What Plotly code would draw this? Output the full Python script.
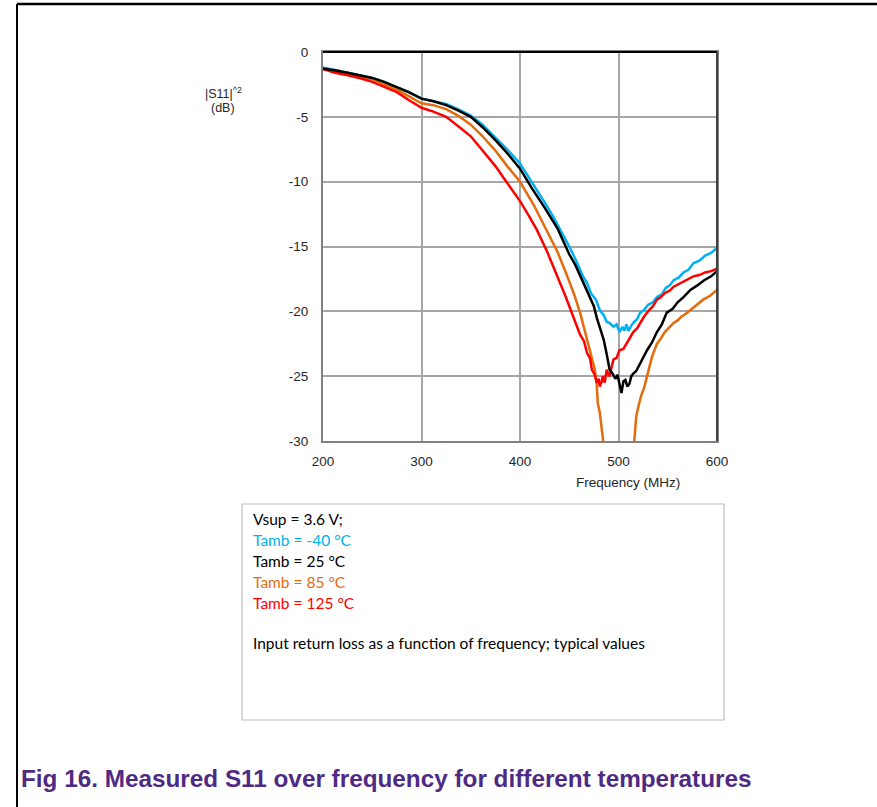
import plotly.graph_objects as go

# ---- data ----
freq_m40 = [200, 212, 225, 237, 250, 262, 275, 287, 300, 312, 325, 337, 350, 362, 375, 387, 400, 412, 425, 433, 441, 450, 457, 464, 468, 472, 477, 481, 485, 488, 491, 495, 498, 501, 504, 506, 508, 510, 513, 516, 519, 522, 526, 530, 535, 539, 544, 548, 552, 556, 561, 566, 571, 576, 582, 588, 594, 600]
s11_m40 = [-1.2, -1.4, -1.6, -1.8, -2.0, -2.3, -2.7, -3.1, -3.6, -3.8, -4.0, -4.4, -4.9, -5.6, -6.6, -7.5, -8.6, -10.0, -11.6, -12.6, -13.7, -15.0, -16.1, -17.3, -17.8, -18.6, -19.1, -19.9, -20.3, -20.8, -20.9, -21.2, -21.0, -21.6, -21.2, -21.5, -21.0, -21.5, -21.1, -20.8, -20.6, -20.1, -19.9, -19.5, -19.3, -18.9, -18.7, -18.2, -18.0, -17.6, -17.4, -17.0, -16.8, -16.3, -16.1, -15.7, -15.5, -15.1]

freq_25 = [200, 212, 225, 237, 250, 262, 275, 287, 300, 312, 325, 337, 350, 362, 375, 387, 400, 412, 425, 438, 450, 456, 462, 467, 471, 475, 478, 482, 485, 488, 491, 494, 497, 499, 501, 503, 505, 507, 509, 511, 513, 515, 518, 522, 525, 529, 534, 539, 544, 549, 555, 560, 566, 573, 580, 587, 594, 600]
s11_25 = [-1.3, -1.4, -1.6, -1.8, -2.0, -2.3, -2.7, -3.1, -3.6, -3.8, -4.1, -4.5, -5.0, -5.8, -6.8, -7.8, -9.0, -10.5, -12.0, -13.6, -15.6, -16.4, -17.4, -18.2, -18.9, -19.6, -20.5, -21.4, -22.2, -23.3, -24.5, -24.8, -25.2, -24.9, -25.5, -26.3, -25.4, -25.3, -25.8, -25.6, -25.0, -24.8, -24.6, -24.0, -23.6, -23.0, -22.4, -21.6, -21.0, -20.1, -19.8, -19.3, -18.9, -18.35, -18.0, -17.6, -17.3, -16.9]

freq_85 = [200, 212, 225, 237, 250, 262, 275, 287, 300, 312, 325, 337, 350, 362, 375, 387, 400, 414, 427, 438, 447, 455, 461, 466, 471, 474, 476, 478, 479, 481, 482, 484, 486, 500, 514, 516, 518, 520, 523, 526, 529, 534, 539, 543, 547, 551, 556, 560, 564, 568, 573, 579, 586, 593, 600]
s11_85 = [-1.3, -1.5, -1.7, -1.9, -2.1, -2.5, -2.9, -3.4, -3.95, -4.1, -4.4, -4.9, -5.6, -6.5, -7.6, -8.8, -10.0, -11.8, -13.7, -15.4, -17.1, -18.7, -20.1, -21.5, -23.0, -23.8, -24.5, -25.8, -27.1, -27.8, -28.5, -29.6, -31.0, -34.0, -31.0, -30.0, -28.1, -27.4, -26.5, -25.9, -25.0, -23.5, -22.5, -22.1, -21.6, -21.3, -20.9, -20.7, -20.4, -20.2, -19.9, -19.5, -19.1, -18.8, -18.35]

freq_125 = [200, 212, 225, 237, 250, 262, 275, 287, 300, 312, 325, 337, 350, 362, 375, 387, 400, 408, 417, 427, 437, 446, 454, 461, 465, 468, 471, 473, 476, 478, 480, 481, 483, 484, 486, 488, 490, 491, 493, 495, 498, 501, 505, 508, 512, 515, 519, 522, 526, 530, 535, 539, 543, 547, 552, 556, 561, 566, 571, 576, 582, 588, 594, 600]
s11_125 = [-1.3, -1.6, -1.8, -2.0, -2.3, -2.7, -3.1, -3.7, -4.3, -4.6, -5.0, -5.7, -6.5, -7.6, -8.8, -10.1, -11.5, -12.5, -13.7, -15.3, -17.1, -18.8, -20.4, -21.8, -22.3, -23.2, -23.6, -24.5, -24.9, -25.5, -25.2, -25.8, -25.4, -25.0, -25.5, -24.5, -24.9, -25.0, -24.3, -23.7, -23.6, -23.0, -22.9, -22.5, -22.0, -21.6, -21.3, -20.9, -20.4, -20.0, -19.6, -19.1, -18.9, -18.6, -18.4, -18.1, -17.9, -17.7, -17.5, -17.3, -17.2, -17.0, -16.9, -16.7]

series_names = ["Tamb = -40 °C", "Tamb = 25 °C", "Tamb = 85 °C", "Tamb = 125 °C"]
series_colors = ["#00B0F0", "#000000", "#E46C0A", "#FF0000"]

x_ticks = [200, 300, 400, 500, 600]
y_ticks = [0, -5, -10, -15, -20, -25, -30]

# ---- figure ----
W, H = 877, 807
L, R, T, B = 323, 717, 52, 441  # plot area in pixels

def px(x):
    return (x - L) / (R - L)

def py(y):
    return (B - y) / (B - T)

fig = go.Figure()
draw_order = [0, 2, 3, 1]  # black drawn last, on top
all_x = [freq_m40, freq_25, freq_85, freq_125]
all_y = [s11_m40, s11_25, s11_85, s11_125]
for i in draw_order:
    fig.add_trace(go.Scatter(x=all_x[i], y=all_y[i], mode="lines", name=series_names[i],
                             line=dict(color=series_colors[i], width=2.5), showlegend=False))

axis_font = dict(family="Liberation Sans, Arial, sans-serif", size=13.5, color="#262626")
fig.update_layout(
    width=W, height=H,
    margin=dict(l=L, r=W - R, t=T, b=H - B, pad=0),
    paper_bgcolor="white", plot_bgcolor="white",
    xaxis=dict(range=[200, 600], tickvals=x_ticks, ticktext=[str(v) for v in x_ticks],
               showgrid=True, gridcolor="#A6A6A6", gridwidth=1.5,
               showline=True, linecolor="#808080", linewidth=2, mirror=True,
               ticks="", ticklabelstandoff=7, tickfont=axis_font, zeroline=False,
               fixedrange=True),
    yaxis=dict(range=[-30, 0], tickvals=y_ticks, ticktext=[str(v) for v in y_ticks],
               showgrid=True, gridcolor="#A6A6A6", gridwidth=1.5,
               showline=True, linecolor="#808080", linewidth=2, mirror=True,
               ticks="", ticklabelstandoff=10, tickfont=axis_font, zeroline=False,
               fixedrange=True),
)

shapes = []
shapes.append(dict(type="line", xref="paper", yref="paper", x0=0, x1=1, y0=1, y1=1,
                   line=dict(color="#000000", width=2), layer="above"))
shapes.append(dict(type="line", xref="paper", yref="paper", x0=1, x1=1, y0=0, y1=1,
                   line=dict(color="#404040", width=2), layer="above"))
# outer page frame
shapes.append(dict(type="line", xref="paper", yref="paper", x0=px(17), x1=px(880), y0=py(4), y1=py(4),
                   line=dict(color="#000000", width=2.5)))
shapes.append(dict(type="line", xref="paper", yref="paper", x0=px(17), x1=px(17), y0=py(4), y1=py(810),
                   line=dict(color="#000000", width=2)))
# info box
shapes.append(dict(type="rect", xref="paper", yref="paper", x0=px(242), x1=px(724), y0=py(504), y1=py(720),
                   line=dict(color="#BFBFBF", width=1.2), fillcolor="rgba(0,0,0,0)"))
fig.update_layout(shapes=shapes)

lab_font = dict(family="Liberation Sans, Arial, sans-serif", size=12.5, color="#262626")
ann = []
ann.append(dict(text="|S11|<sup>^2</sup>", x=px(223), y=py(93), xref="paper", yref="paper",
                showarrow=False, xanchor="center", yanchor="middle", font=lab_font))
ann.append(dict(text="(dB)", x=px(223), y=py(108), xref="paper", yref="paper",
                showarrow=False, xanchor="center", yanchor="middle", font=lab_font))
ann.append(dict(text="Frequency (MHz)", x=px(628), y=py(482), xref="paper", yref="paper",
                showarrow=False, xanchor="center", yanchor="middle",
                font=dict(family="Liberation Sans, Arial, sans-serif", size=13.5, color="#262626")))

info_lines = [("Vsup = 3.6 V;", "#000000")] + list(zip(series_names, series_colors))
for i, (txt, col) in enumerate(info_lines):
    ann.append(dict(text=txt, x=px(251), y=py(519 + 21 * i), xref="paper", yref="paper",
                    showarrow=False, xanchor="left", yanchor="middle",
                    font=dict(family="Lato, Carlito, sans-serif", size=15.5, color=col)))
ann.append(dict(text="Input return loss as a function of frequency; typical values",
                x=px(251), y=py(643), xref="paper", yref="paper",
                showarrow=False, xanchor="left", yanchor="middle",
                font=dict(family="Lato, Carlito, sans-serif", size=15.5, color="#000000")))
ann.append(dict(text="<b>Fig 16. Measured S11 over frequency for different temperatures</b>",
                x=px(19), y=py(778), xref="paper", yref="paper",
                showarrow=False, xanchor="left", yanchor="middle",
                font=dict(family="Liberation Sans, Arial, sans-serif", size=24.3, color="#4E2A84")))
fig.update_layout(annotations=ann)

fig.write_html("out.html", config={"displayModeBar": False},
               post_script="document.body.style.margin='0';document.body.style.overflow='hidden';")
